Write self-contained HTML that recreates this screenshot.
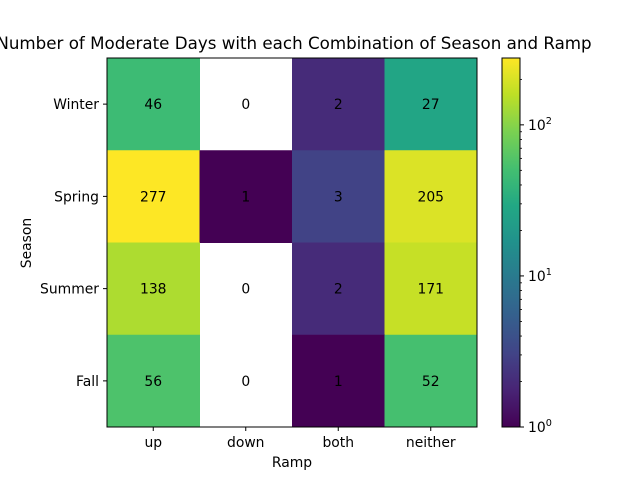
<!DOCTYPE html>
<html><head><meta charset="utf-8"><style>
body{margin:0;background:#fff;}
svg{font-family:"DejaVu Sans","Liberation Sans",sans-serif;}
</style></head><body>
<svg id="chart" width="640" height="480" xmlns="http://www.w3.org/2000/svg"></svg>
<script>
const seasons = ["Winter","Spring","Summer","Fall"];
const ramps = ["up","down","both","neither"];
const counts = [
  [46,0,2,27],
  [277,1,3,205],
  [138,0,2,171],
  [56,0,1,52]
];
const cbarTicks = [1,10,100];
const cbarTickLabels = ["0","1","2"];

const NS="http://www.w3.org/2000/svg";
const svg=document.getElementById('chart');
function mk(t,a,p){const e=document.createElementNS(NS,t);for(const k in a)e.setAttribute(k,a[k]);(p||svg).appendChild(e);return e;}
const X0=107,X1=477,Y0=58,Y1=427;
const cw=(X1-X0)/ramps.length, rh=(Y1-Y0)/seasons.length;
const vmax=Math.max(...counts.flat()), vmin=1;
function norm(v){return Math.log10(v/vmin)/Math.log10(vmax/vmin);}
const stops=["#440154","#482475","#414487","#355f8d","#2a788e","#21918c","#22a884","#44bf70","#7ad151","#bddf26","#fde725"];
function hx(h){return [1,3,5].map(i=>parseInt(h.substr(i,2),16));}
function viridis(t){t=Math.max(0,Math.min(1,t));const f=t*10,i=Math.min(9,Math.floor(f)),r=f-i;const a=hx(stops[i]),b=hx(stops[i+1]);return `rgb(${a.map((c,k)=>Math.round(c+(b[k]-c)*r)).join(',')})`;}

mk('rect',{x:0,y:0,width:640,height:480,fill:'#fff'});
let t=mk('text',{x:294,y:49,'text-anchor':'middle','font-size':16.7});t.textContent="Number of Moderate Days with each Combination of Season and Ramp";



counts.forEach((row,i)=>row.forEach((v,j)=>{
  const x=X0+j*cw,y=Y0+i*rh;
  if(v>0){const r=mk('rect',{x:x,y:y,width:cw+0.5,height:rh+0.5,fill:viridis(norm(v))});
    
    }
  const tx=mk('text',{x:x+cw/2,y:y+rh/2+5,'text-anchor':'middle','font-size':13.9});tx.textContent=v;
  
  
}));
mk('rect',{x:X0,y:Y0,width:X1-X0,height:Y1-Y0,fill:'none',stroke:'#000','stroke-width':1});
ramps.forEach((r,j)=>{const x=X0+(j+.5)*cw;mk('line',{x1:x,x2:x,y1:Y1,y2:Y1+4,stroke:'#000'});
  const e=mk('text',{x:x,y:Y1+20,'text-anchor':'middle','font-size':13.9});e.textContent=r;
  
  });
seasons.forEach((s,i)=>{const y=Y0+(i+.5)*rh;mk('line',{x1:X0-4,x2:X0,y1:y,y2:y,stroke:'#000'});
  const e=mk('text',{x:X0-8,y:y+5,'text-anchor':'end','font-size':13.9});e.textContent=s;
  
  });
t=mk('text',{x:292,y:467,'text-anchor':'middle','font-size':13.9});t.textContent="Ramp";


t=mk('text',{x:31,y:243,'text-anchor':'middle','font-size':13.9,transform:'rotate(-90 31 243)'});t.textContent="Season";



// colorbar
const CX=502,CW=18;
const defs=mk('defs',{});const g=mk('linearGradient',{id:'cg',x1:0,y1:1,x2:0,y2:0},defs);
for(let k=0;k<=20;k++)mk('stop',{offset:k/20,'stop-color':viridis(k/20)},g);
const cb=mk('rect',{x:CX,y:Y0,width:CW,height:Y1-Y0,fill:'url(#cg)',stroke:'#000','stroke-width':1});


function cy(v){return Y1-norm(v)*(Y1-Y0);}
cbarTicks.forEach((v,k)=>{const y=cy(v);mk('line',{x1:CX+CW,x2:CX+CW+4,y1:y,y2:y,stroke:'#000'});
  const e=mk('text',{x:CX+CW+8,y:y+5,'font-size':13.9});e.textContent='10';
  const s=mk('tspan',{dy:-6,'font-size':9.7},e);s.textContent=cbarTickLabels[k];
  
  });
for(let d=1;d<=100;d*=10)for(let m=2;m<=9;m++){const v=m*d;if(v<=vmax){const y=cy(v);mk('line',{x1:CX+CW,x2:CX+CW+2,y1:y,y2:y,stroke:'#000','stroke-width':0.8});}}
</script>
</body></html>
